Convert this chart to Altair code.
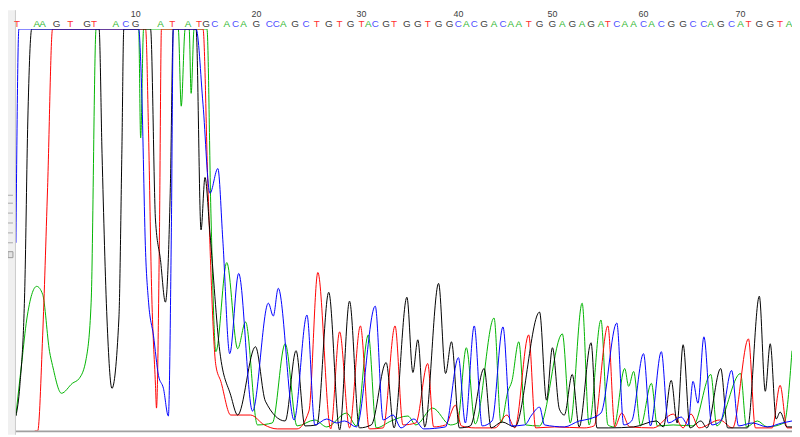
import altair as alt
import pandas as pd

# ---- base calls (header) ----
BASES = list("TAAGTGTACGATATGCACAGCCAGCTGTGTACGTGGTGGCACGACAATGGAGAGATCAACACGGCCAGCATGGTA")
BASE_POS = [17, 37, 43, 57, 71, 88, 95, 117, 127, 137,
            162, 174, 190, 201, 208, 217, 229, 238, 246, 259,
            272, 279, 286, 298, 309, 320, 332, 343, 354, 365,
            372, 379, 390, 398, 411, 422, 432, 443, 454, 463,
            471, 479, 489, 499, 508, 516, 524, 534, 545, 558,
            568, 578, 588, 597, 607, 614, 623, 631, 640, 650,
            658, 668, 678, 690, 700, 711, 718, 728, 739, 748,
            756, 767, 778, 788, 797]
TICK_NUMBERS = [10, 20, 30, 40, 50, 60, 70]

# ---- trace vertices (scan position, signal) ----
A_x = [16, 22, 27, 37, 43, 50, 53, 62, 73, 80, 87, 92, 97, 140, 142, 145, 180, 183, 187, 191,
       193, 196, 209, 213, 218, 229, 240, 248, 260, 275, 288, 300, 318, 330, 350, 360, 372, 380,
       395, 412, 420, 437, 455, 462, 471, 480, 499, 506, 513, 517, 524, 531, 545, 568, 576, 588,
       595, 607, 614, 620, 631, 635, 640, 647, 658, 664, 680, 700, 718, 724, 748, 754, 765, 775,
       792, 800]
A_y = [16, 70, 113, 146, 138, 80, 66, 38, 48, 53, 73, 130, 406, 406, 296, 406, 406, 328, 406, 406,
       341, 406, 406, 220, 80, 170, 83, 110, 6, 8, 88, 5, 11, 4, 18, 5, 97, 3,
       10, 15, 6, 23, 6, 8, 84, 7, 114, 8, 40, 50, 90, 6, 5, 98, 8, 129,
       6, 112, 6, 4, 63, 45, 60, 5, 48, 5, 6, 5, 57, 5, 58, 4, 10, 4,
       8, 81]

C_x = [16, 19, 140, 143, 147, 150, 155, 160, 165, 170, 173, 175, 198, 205, 212, 220, 225, 232,
       241, 255, 271, 276, 281, 297, 310, 318, 330, 340, 348, 360, 379, 387, 397, 405, 418, 428,
       450, 463, 470, 479, 487, 497, 508, 516, 530, 537, 545, 550, 570, 585, 595, 607, 623, 630,
       638, 650, 657, 668, 675, 688, 695, 700, 705, 711, 719, 728, 739, 746, 760, 775, 790, 800]
C_y = [190, 406, 406, 346, 180, 130, 96, 56, 43, 15, 200, 406, 406, 330, 240, 265, 193, 78,
       159, 20, 129, 116, 144, 11, 117, 6, 12, 8, 10, 4, 126, 11, 16, 3, 12, 2,
       4, 74, 8, 106, 5, 10, 105, 5, 6, 16, 24, 6, 4, 10, 12, 18, 109, 6,
       10, 78, 5, 80, 8, 14, 6, 50, 28, 95, 6, 10, 61, 5, 8, 4, 8, 10]

G_x = [16, 20, 25, 28, 32, 100, 103, 108, 113, 120, 123, 125, 152, 157, 162, 167, 172, 175, 198,
       203, 207, 212, 222, 233, 240, 258, 268, 288, 299, 308, 320, 332, 343, 353, 363, 375, 390,
       398, 411, 417, 422, 429, 443, 450, 456, 464, 475, 489, 496, 507, 520, 545, 552, 558, 565,
       570, 578, 585, 597, 603, 615, 640, 663, 670, 678, 684, 690, 697, 708, 714, 728, 735, 755,
       767, 773, 778, 784, 788, 795, 800]
G_y = [15, 46, 146, 313, 406, 406, 280, 113, 43, 113, 280, 406, 406, 213, 173, 130, 246, 406, 406,
       203, 256, 200, 80, 36, 16, 85, 30, 10, 81, 5, 6, 140, 1, 131, 3, 6, 69,
       3, 135, 59, 92, 4, 149, 58, 90, 3, 5, 63, 3, 9, 4, 120, 31, 84, 22,
       16, 57, 4, 89, 3, 3, 4, 10, 4, 51, 8, 87, 3, 10, 3, 63, 3, 3,
       136, 40, 88, 12, 19, 4, 4]

T_x = [35, 38, 43, 48, 53, 147, 150, 153, 157, 158, 161, 163, 205, 210, 218, 223, 233, 253, 267,
       280, 300, 312, 321, 334, 343, 353, 364, 373, 387, 399, 407, 420, 432, 438, 450, 460, 466,
       480, 500, 512, 520, 534, 541, 560, 590, 600, 614, 621, 628, 636, 660, 680, 690, 698, 706,
       727, 740, 756, 763, 780, 788, 795, 800]
T_y = [0, 0, 96, 246, 406, 406, 300, 146, 46, 23, 200, 406, 406, 246, 66, 50, 16, 16, 6,
       2, 2, 20, 160, 2, 100, 3, 106, 2, 3, 106, 6, 8, 68, 4, 6, 26, 5,
       3, 3, 16, 3, 97, 3, 4, 3, 5, 106, 4, 18, 4, 3, 17, 3, 17, 3,
       11, 3, 93, 3, 3, 46, 3, 3]

SLIDER_TICKS = [195, 203, 213, 223, 233, 243]  # page-space decoration rows

# ---- build tables ----
rows = []
for b, xs_, ys_ in (("A", A_x, A_y), ("T", T_x, T_y), ("G", G_x, G_y), ("C", C_x, C_y)):
    for i, (x, y) in enumerate(zip(xs_, ys_)):
        rows.append({"base": b, "scan": x, "signal": y, "i": i})
traces = pd.DataFrame(rows)

calls = pd.DataFrame({"base": BASES, "pos": BASE_POS})
ticks = pd.DataFrame({"n": TICK_NUMBERS, "pos": [BASE_POS[n - 1] for n in TICK_NUMBERS]})

W, H = 784, 406
xs = alt.Scale(domain=[16, 800], nice=False, zero=False)
ys = alt.Scale(domain=[0, 406], nice=False, zero=False)

panel = alt.Chart(pd.DataFrame({"a": [0]})).mark_rect(color="#f0f0f0").encode(
    x=alt.value(-8), x2=alt.value(-1), y=alt.value(-19), y2=alt.value(H + 4))
border = alt.Chart(pd.DataFrame({"a": [0]})).mark_rule(color="#c8c8c8", strokeWidth=1).encode(
    x=alt.value(-0.5), y=alt.value(-19), y2=alt.value(H + 4))
slider = alt.Chart(pd.DataFrame({"yy": [t - 27 for t in SLIDER_TICKS]})).mark_rule(
    color="#a8a8a8", strokeWidth=1).encode(
    x=alt.value(-8), x2=alt.value(-3), y=alt.Y("yy:Q", scale=None))
knob = alt.Chart(pd.DataFrame({"a": [0]})).mark_rect(
    color="#e4e4e4", stroke="#9a9a9a", strokeWidth=1).encode(
    x=alt.value(-8), x2=alt.value(-3), y=alt.value(225), y2=alt.value(231))

lines = alt.Chart(traces).mark_line(interpolate="monotone", strokeWidth=1, clip=True).encode(
    x=alt.X("scan:Q", scale=xs, axis=None),
    y=alt.Y("signal:Q", scale=ys, axis=None),
    order="i:Q",
    color=alt.Color("base:N", legend=None,
                    scale=alt.Scale(domain=["A", "T", "G", "C"],
                                    range=["#00b400", "#ff0000", "#000000", "#0000ff"])),
)

letters = alt.Chart(calls).mark_text(font="Liberation Sans", fontSize=10, baseline="middle",
                                      align="center").encode(
    x=alt.X("pos:Q", scale=xs, axis=None),
    y=alt.value(-4.5),
    text="base:N",
    color=alt.Color("base:N", legend=None,
                    scale=alt.Scale(domain=["A", "T", "G", "C"],
                                    range=["#30b830", "#ff3030", "#404040", "#5050ff"])),
)

numbers = alt.Chart(ticks).mark_text(font="Liberation Sans", fontSize=9, baseline="top",
                                      align="center", color="#404040").encode(
    x=alt.X("pos:Q", scale=xs, axis=None),
    y=alt.value(-19.5),
    text="n:Q",
)

axis_line = alt.Chart(pd.DataFrame({"a": [0]})).mark_rule(color="#a0a0a0", strokeWidth=2).encode(
    x=alt.value(0), x2=alt.value(W), y=alt.value(H + 0.5))

chart = alt.layer(panel, border, slider, knob, lines, axis_line, letters, numbers).resolve_scale(
    color="independent"
).properties(
    width=W, height=H,
    autosize=alt.AutoSizeParams(type="none"),
    padding={"left": 8, "top": 19, "right": 0, "bottom": 4},
    background="white",
).configure_view(stroke=None)

chart.save("out.html", embed_options={"renderer": "svg", "actions": False})
